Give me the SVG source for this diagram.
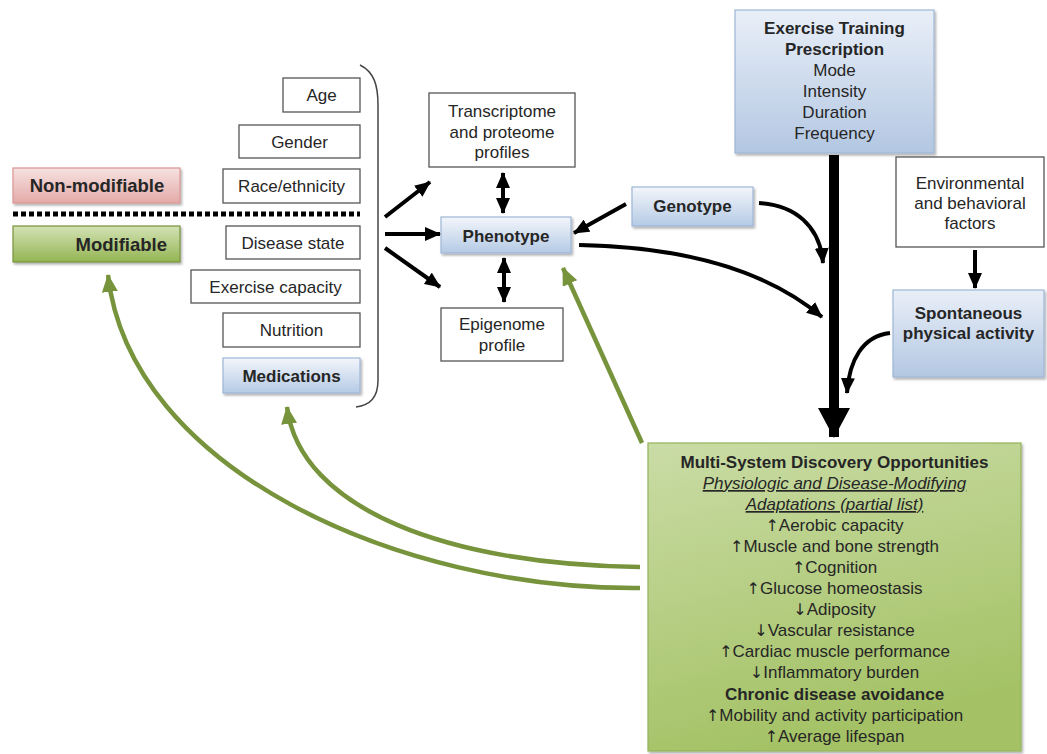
<svg xmlns="http://www.w3.org/2000/svg" width="1047" height="754" viewBox="0 0 1047 754">
<defs>
<linearGradient id="gBlue" x1="0" y1="0" x2="0" y2="1"><stop offset="0" stop-color="#f3f6fb"/><stop offset="1" stop-color="#b5cae5"/></linearGradient>
<linearGradient id="gBlue2" x1="0" y1="0" x2="0" y2="1"><stop offset="0" stop-color="#e9eff8"/><stop offset="1" stop-color="#b3c7e2"/></linearGradient>
<linearGradient id="gPink" x1="0" y1="0" x2="0" y2="1"><stop offset="0" stop-color="#f6e2e1"/><stop offset="1" stop-color="#e3aaa8"/></linearGradient>
<linearGradient id="gGreen" x1="0" y1="0" x2="0" y2="1"><stop offset="0" stop-color="#d3e2b5"/><stop offset="1" stop-color="#94b552"/></linearGradient>
<linearGradient id="gBig" x1="0" y1="0" x2="0.3" y2="1"><stop offset="0" stop-color="#cadca6"/><stop offset="1" stop-color="#a4c265"/></linearGradient>
<filter id="sh" x="-10%" y="-10%" width="130%" height="140%"><feDropShadow dx="1.5" dy="2" stdDeviation="1.2" flood-color="#000" flood-opacity="0.3"/></filter>
<marker id="ah" markerUnits="userSpaceOnUse" markerWidth="16" markerHeight="14" refX="15" refY="7" orient="auto-start-reverse"><path d="M0,0 L16,7 L0,14 z" fill="#000"/></marker>
<marker id="ahG" markerUnits="userSpaceOnUse" markerWidth="18" markerHeight="16" refX="17" refY="8" orient="auto"><path d="M0,0 L18,8 L0,16 z" fill="#77933c"/></marker>
<marker id="ahBig" markerUnits="userSpaceOnUse" markerWidth="30" markerHeight="32" refX="29" refY="16" orient="auto"><path d="M0,0 L30,16 L0,32 z" fill="#000"/></marker>
<style>
text{font-family:"Liberation Sans",Arial,sans-serif;fill:#262626;text-anchor:middle;font-size:17px}
.b{font-weight:bold}
.w{fill:#fff;stroke:#555;stroke-width:1.3}
.bl{fill:url(#gBlue);stroke:#9fb6d6;stroke-width:1.2;filter:url(#sh)}
.k{fill:none;stroke:#000;stroke-width:4}
.g{fill:none;stroke:#77933c;stroke-width:4.5}
.u{text-decoration:underline;font-style:italic}
.ar{font-family:"DejaVu Sans",sans-serif;font-size:16px;fill:#262626}
</style>
</defs>

<g id="non-modifiable">
<rect x="13" y="168" width="167" height="35" fill="url(#gPink)" stroke="#d99694" stroke-width="1.2" filter="url(#sh)"/>
<text x="97" y="192" class="b" style="font-size:18.5px">Non-modifiable</text>
</g>
<g id="divider"><line x1="13" y1="214" x2="360" y2="214" stroke="#000" stroke-width="5" stroke-dasharray="5 3"/></g>
<g id="modifiable">
<rect x="13" y="226" width="167" height="36" fill="url(#gGreen)" stroke="#77933c" stroke-width="1.2" filter="url(#sh)"/>
<text x="167" y="251" class="b" style="font-size:18.5px;text-anchor:end">Modifiable</text>
</g>

<g id="age"><rect class="w" x="283" y="78" width="77" height="34"/><text x="321.5" y="101">Age</text></g>
<g id="gender"><rect class="w" x="239" y="125" width="121" height="33"/><text x="299.5" y="148">Gender</text></g>
<g id="race"><rect class="w" x="223" y="169" width="137" height="34"/><text x="291.5" y="192">Race/ethnicity</text></g>
<g id="disease"><rect class="w" x="226" y="226" width="134" height="33"/><text x="293" y="249">Disease state</text></g>
<g id="exercise-capacity"><rect class="w" x="191" y="270" width="169" height="33"/><text x="275.5" y="293">Exercise capacity</text></g>
<g id="nutrition"><rect class="w" x="223" y="313" width="137" height="34"/><text x="291.5" y="336">Nutrition</text></g>
<g id="medications"><rect class="bl" x="223" y="358" width="137" height="35"/><text x="291.5" y="382" class="b">Medications</text></g>
<g id="bracket"><path d="M360,65 C374,72 378,85 378,105 L378,380 C378,398 370,405 356,407" fill="none" stroke="#444" stroke-width="1.5"/></g>

<g id="transcriptome"><rect class="w" x="429" y="93" width="146" height="74"/>
<text x="502" y="117">Transcriptome</text><text x="502" y="138">and proteome</text><text x="502" y="158">profiles</text></g>
<g id="phenotype"><rect class="bl" x="441" y="217" width="130" height="36"/><text x="506" y="242" class="b">Phenotype</text></g>
<g id="epigenome"><rect class="w" x="441" y="308" width="122" height="53"/><text x="502" y="330">Epigenome</text><text x="502" y="351">profile</text></g>
<g id="genotype"><rect class="bl" x="632" y="187" width="121" height="39"/><text x="692.5" y="212" class="b">Genotype</text></g>

<g id="exercise-prescription"><rect x="735" y="10" width="199" height="143" fill="url(#gBlue2)" stroke="#9fb6d6" stroke-width="1.2" filter="url(#sh)"/>
<text x="834.5" y="34" class="b">Exercise Training</text><text x="834.5" y="55" class="b">Prescription</text>
<text x="834.5" y="76">Mode</text><text x="834.5" y="97">Intensity</text><text x="834.5" y="118">Duration</text><text x="834.5" y="139">Frequency</text></g>
<g id="environmental"><rect class="w" x="896" y="157" width="148" height="90"/>
<text x="970" y="189">Environmental</text><text x="970" y="209">and behavioral</text><text x="970" y="229">factors</text></g>
<g id="spontaneous"><rect x="893" y="290" width="151" height="87" fill="url(#gBlue2)" stroke="#9fb6d6" stroke-width="1.2" filter="url(#sh)"/>
<text x="968.5" y="319" class="b">Spontaneous</text><text x="968.5" y="339" class="b">physical activity</text></g>

<g id="discovery"><rect x="648" y="443" width="373" height="308" fill="url(#gBig)" stroke="#93b45a" stroke-width="1.2" filter="url(#sh)"/>
<text x="834.5" y="468" class="b">Multi-System Discovery Opportunities</text>
<text x="834.5" y="489" class="u">Physiologic and Disease-Modifying</text>
<text x="834.5" y="510" class="u">Adaptations (partial list)</text>
<text x="834.5" y="531"><tspan class="ar">↑</tspan>Aerobic capacity</text>
<text x="834.5" y="552"><tspan class="ar">↑</tspan>Muscle and bone strength</text>
<text x="834.5" y="573"><tspan class="ar">↑</tspan>Cognition</text>
<text x="834.5" y="594"><tspan class="ar">↑</tspan>Glucose homeostasis</text>
<text x="834.5" y="615"><tspan class="ar">↓</tspan>Adiposity</text>
<text x="834.5" y="636"><tspan class="ar">↓</tspan>Vascular resistance</text>
<text x="834.5" y="657"><tspan class="ar">↑</tspan>Cardiac muscle performance</text>
<text x="834.5" y="678"><tspan class="ar">↓</tspan>Inflammatory burden</text>
<text x="834.5" y="700" class="b">Chronic disease avoidance</text>
<text x="834.5" y="721"><tspan class="ar">↑</tspan>Mobility and activity participation</text>
<text x="834.5" y="742"><tspan class="ar">↑</tspan>Average lifespan</text></g>

<g id="connectors">
<path class="k" d="M385,217 L430,182" marker-end="url(#ah)"/>
<path class="k" d="M385,234 L440,234" marker-end="url(#ah)"/>
<path class="k" d="M385,248 L440,287" marker-end="url(#ah)"/>
<path class="k" d="M503,173 L503,213" marker-start="url(#ah)" marker-end="url(#ah)"/>
<path class="k" d="M504,258 L504,302" marker-start="url(#ah)" marker-end="url(#ah)"/>
<path class="k" d="M626,204 L574,233" marker-end="url(#ah)"/>
<path class="k" d="M759,203 C795,205 820,226 823,263" marker-end="url(#ah)"/>
<path class="k" d="M579,245 Q740,248 822,317" marker-end="url(#ah)"/>
<path class="k" d="M975,250 L975,288" marker-end="url(#ah)"/>
<path class="k" d="M890,333 C863,336 849,360 847,393" marker-end="url(#ah)"/>
<path d="M834,155 L834,437" fill="none" stroke="#000" stroke-width="10" marker-end="url(#ahBig)"/>
<path class="g" d="M642,443 L563,268" marker-end="url(#ahG)"/>
<path class="g" d="M640,567 C450,565 300,510 287,407" marker-end="url(#ahG)"/>
<path class="g" d="M640,588 C400,590 130,470 108,275" marker-end="url(#ahG)"/>
</g>
</svg>
